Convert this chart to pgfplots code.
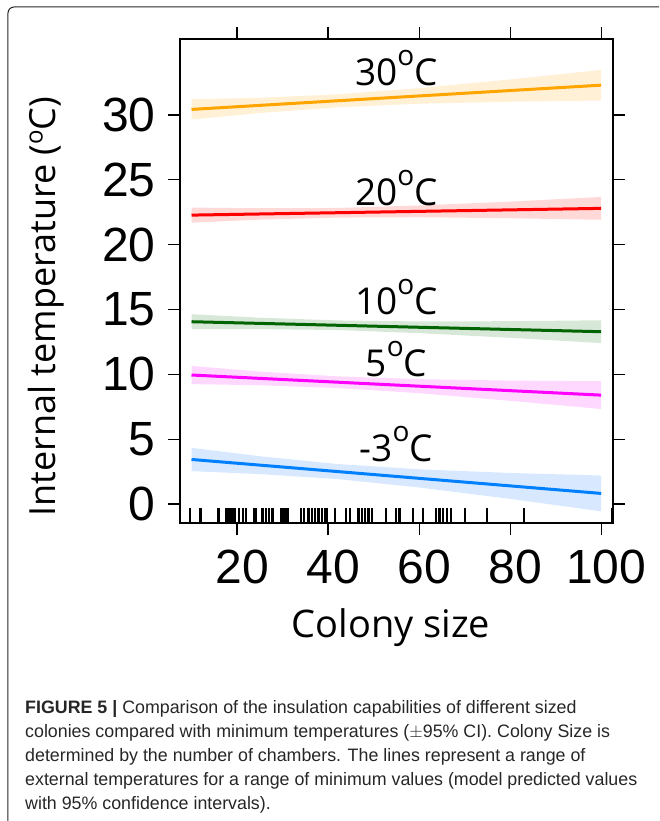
\documentclass[border=0pt]{standalone}
\usepackage{pgfplots}
\pgfplotsset{compat=1.18}
\usepackage{fontspec}
\setmainfont{Open Sans}
\newfontfamily\tickfont{Liberation Sans}
\newfontfamily\capfont[FakeStretch=0.99]{Liberation Sans}
\definecolor{cOr}{RGB}{255,165,0}
\definecolor{cRe}{RGB}{255,0,0}
\definecolor{cGr}{RGB}{0,100,0}
\definecolor{cMa}{RGB}{255,0,255}
\definecolor{cBl}{RGB}{0,128,255}
\definecolor{bOr}{RGB}{255,240,214}
\definecolor{bRe}{RGB}{255,216,216}
\definecolor{bGr}{RGB}{216,232,216}
\definecolor{bMa}{RGB}{255,216,255}
\definecolor{bBl}{RGB}{216,233,255}
\newcommand\sdeg{\raisebox{20pt}{\fontsize{28}{28}\selectfont o}}
\begin{document}
\begin{tikzpicture}[x=1pt,y=1pt]
\begin{axis}[
  name=ax,
  width=433pt, height=484pt, scale only axis,
  xmin=7.47, xmax=102.6, ymin=-1.46, ymax=35.86,
  xtick={20,40,60,80,100}, ytick={0,5,10,15,20,25,30},
  tick align=outside, major tick length=12pt,
  tick style={black, line width=1.2pt},
  axis line style={black, line width=1.2pt},
  ticklabel style={font=\fontsize{48}{48}\tickfont},
  /pgf/number format/assume math mode=true,
  xticklabel style={xshift=5pt, yshift=-11pt},
  yticklabel style={xshift=-9pt},
  xlabel={Colony size},
  xlabel style={at={(axis description cs:0.487,-0.2376)}, anchor=base, font=\fontsize{38}{38}\selectfont},
  ylabel={Internal temperature (\raisebox{13pt}{\fontsize{24}{24}\selectfont o}C)},
  ylabel style={at={(axis description cs:-0.309,0.447)}, anchor=center, font=\fontsize{36}{36}\selectfont},
  clip=false,
]
% 30 C
\addplot[fill=bOr, draw=none] coordinates {(10,31.21)(25,31.33)(42,31.59)(60,32.07)(80,32.74)(100,33.48)(100,31.12)(80,31.02)(60,30.87)(42,30.59)(25,30.15)(10,29.65)} -- cycle;
\addplot[cOr, line width=3pt] coordinates {(10,30.43)(100,32.30)};
% 20 C
\addplot[fill=bRe, draw=none] coordinates {(10,22.86)(25,22.81)(42,22.83)(60,23.02)(80,23.32)(100,23.68)(100,21.92)(80,22.04)(60,22.12)(42,22.09)(25,21.93)(10,21.70)} -- cycle;
\addplot[cRe, line width=3pt] coordinates {(10,22.28)(100,22.80)};
% 10 C
\addplot[fill=bGr, draw=none] coordinates {(10,14.64)(25,14.37)(42,14.16)(60,14.08)(80,14.10)(100,14.17)(100,12.41)(80,12.82)(60,13.18)(42,13.42)(25,13.49)(10,13.48)} -- cycle;
\addplot[cGr, line width=3pt] coordinates {(10,14.06)(100,13.29)};
% 5 C
\addplot[fill=bMa, draw=none] coordinates {(10,10.65)(25,10.22)(42,9.85)(60,9.63)(80,9.52)(100,9.47)(100,7.33)(80,7.96)(60,8.55)(42,8.95)(25,9.16)(10,9.25)} -- cycle;
\addplot[cMa, line width=3pt] coordinates {(10,9.95)(100,8.40)};
% -3 C
\addplot[fill=bBl, draw=none] coordinates {(10,4.34)(25,3.69)(42,3.09)(60,2.68)(80,2.40)(100,2.20)(100,-0.56)(80,0.40)(60,1.28)(42,1.93)(25,2.31)(10,2.54)} -- cycle;
\addplot[cBl, line width=3pt] coordinates {(10,3.44)(100,0.82)};
% rug
\addplot[only marks, mark=|, mark size=7.5pt, mark options={line width=2.3pt, black}] table {
x y
9.7 -0.88
12.0 -0.88
15.9 -0.88
17.7 -0.88
18.2 -0.88
18.7 -0.88
19.2 -0.88
19.6 -0.88
20.5 -0.88
21.25 -0.88
22.0 -0.88
23.7 -0.88
24.2 -0.88
25.6 -0.88
26.4 -0.88
27.1 -0.88
27.8 -0.88
29.7 -0.88
30.2 -0.88
30.7 -0.88
31.1 -0.88
34.0 -0.88
34.7 -0.88
35.7 -0.88
36.4 -0.88
37.1 -0.88
37.9 -0.88
38.6 -0.88
39.3 -0.88
39.8 -0.88
41.5 -0.88
44.0 -0.88
44.8 -0.88
46.7 -0.88
47.4 -0.88
48.1 -0.88
48.9 -0.88
49.6 -0.88
52.7 -0.88
54.9 -0.88
55.7 -0.88
58.7 -0.88
60.9 -0.88
63.7 -0.88
64.5 -0.88
65.2 -0.88
66.1 -0.88
67.0 -0.88
70.1 -0.88
74.9 -0.88
83.1 -0.88
102.4 -0.88
};
\node[anchor=base, font=\fontsize{37}{37}\selectfont, inner sep=0] at (axis cs:55,32.3) {30\sdeg C};
\node[anchor=base, font=\fontsize{37}{37}\selectfont, inner sep=0] at (axis cs:55,23.05) {20\sdeg C};
\node[anchor=base, font=\fontsize{37}{37}\selectfont, inner sep=0] at (axis cs:55,14.63) {10\sdeg C};
\node[anchor=base, font=\fontsize{37}{37}\selectfont, inner sep=0] at (axis cs:55,9.82) {5\sdeg C};
\node[anchor=base, font=\fontsize{37}{37}\selectfont, inner sep=0] at (axis cs:55,3.26) {-3\sdeg C};
\end{axis}
\path (ax.south west) ++(-180,-298) coordinate (bl);
\pgfresetboundingbox
\path[use as bounding box] (bl) rectangle ++(659,821);
\begin{scope}[shift={(bl)}]
\draw[line width=1pt, black!85] (8,0) -- (8,808) arc[start angle=180,end angle=90,radius=6] -- (659,814);
\begin{scope}[every node/.style={anchor=base west, inner sep=0, font=\fontsize{18}{18}\capfont, text=black!85}]
\node at (25,108) {\textbf{FIGURE 5 |} Comparison of the insulation capabilities of different sized};
\node at (25,84) {colonies compared with minimum temperatures ($\pm$95\% CI). Colony Size is};
\node at (25,60) {determined by the number of chambers. The lines represent a range of};
\node at (25,36) {external temperatures for a range of minimum values (model predicted values};
\node at (25,12) {with 95\% confidence intervals).};
\end{scope}
\end{scope}
\end{tikzpicture}
\end{document}
